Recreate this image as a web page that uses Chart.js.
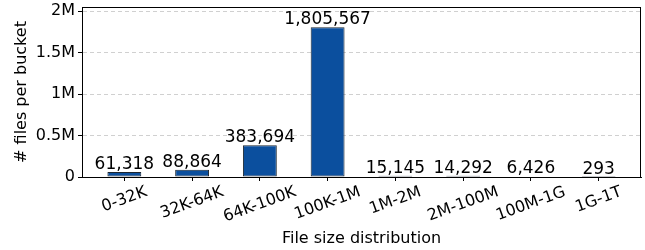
<!DOCTYPE html>
<html>
<head>
<meta charset="utf-8">
<script src="https://cdn.jsdelivr.net/npm/chart.js@4"></script>
<style>
  html, body { margin: 0; padding: 0; background: #fff; }
  #wrap { width: 645px; height: 250px; }
</style>
</head>
<body>
<div id="wrap"><canvas id="chart" width="645" height="250"></canvas></div>
<script>
const buckets = ['0-32K', '32K-64K', '64K-100K', '100K-1M', '1M-2M', '2M-100M', '100M-1G', '1G-1T'];
const fileCounts = [61318, 88864, 383694, 1805567, 15145, 14292, 6426, 293];
const yTicks = [0, 500000, 1000000, 1500000, 2000000];
const yTickLabels = ['0', '0.5M', '1M', '1.5M', '2M'];

const FONT = "'DejaVu Sans', sans-serif";

// black frame round the plot area
const frame = {
  id: 'frame',
  afterDraw(chart) {
    const { ctx, chartArea: a } = chart;
    ctx.save();
    ctx.strokeStyle = '#000';
    ctx.lineWidth = 1;
    ctx.strokeRect(Math.round(a.left) + 0.5, Math.round(a.top) + 0.5,
      Math.round(a.right - a.left) - 1, Math.round(a.bottom - a.top));
    ctx.restore();
  }
};

// value labels on top of bars
const barLabels = {
  id: 'barLabels',
  afterDatasetsDraw(chart) {
    const { ctx } = chart;
    const meta = chart.getDatasetMeta(0);
    ctx.save();
    ctx.font = '17px ' + FONT;
    ctx.fillStyle = '#000';
    ctx.textAlign = 'center';
    ctx.textBaseline = 'bottom';
    meta.data.forEach((bar, i) => {
      ctx.fillText(fileCounts[i].toLocaleString('en-US'), bar.x, bar.y + 1);
    });
    ctx.restore();
  }
};

// x tick labels, rotated 20deg and centred under the tick
const xLabels = {
  id: 'xLabels',
  afterDraw(chart) {
    const { ctx } = chart;
    const sx = chart.scales.x;
    const ang = 20 * Math.PI / 180;
    ctx.save();
    ctx.font = '16px ' + FONT;
    ctx.fillStyle = '#000';
    ctx.textAlign = 'center';
    ctx.textBaseline = 'middle';
    buckets.forEach((lab, i) => {
      const x = sx.getPixelForValue(i);
      const w = ctx.measureText(lab).width;
      const h = w * Math.sin(ang) + 16 * Math.cos(ang);
      ctx.save();
      ctx.translate(x, sx.top + 7 + h / 2);
      ctx.rotate(-ang);
      ctx.fillText(lab, 0, 0);
      ctx.restore();
    });
    ctx.restore();
  }
};

new Chart(document.getElementById('chart'), {
  type: 'bar',
  data: {
    datasets: [{
      data: fileCounts.map((v, i) => ({ x: i, y: v })),
      backgroundColor: '#0b4f9e',
      borderColor: '#1c2630',
      borderWidth: 1,
      borderSkipped: false,
      categoryPercentage: 1,
      barPercentage: 0.5
    }]
  },
  options: {
    responsive: false,
    animation: false,
    layout: { padding: { top: 7, right: 4, left: 0, bottom: 0 } },
    plugins: { legend: { display: false }, tooltip: { enabled: false } },
    scales: {
      x: {
        type: 'linear',
        offset: false,
        min: -0.625, max: 7.625,
        afterBuildTicks(s) { s.ticks = buckets.map((b, i) => ({ value: i })); },
        grid: { display: true, offset: false, drawOnChartArea: false, tickLength: 4, tickColor: '#000' },
        border: { display: true, color: '#000' },
        ticks: { color: 'rgba(0,0,0,0)', font: { family: FONT, size: 16 }, maxRotation: 0, callback: () => '' },
        title: { display: true, text: 'File size distribution', color: '#000', font: { family: FONT, size: 16 }, padding: { top: 0, bottom: 2 } },
        afterFit(s) { s.height = 73; s.paddingLeft = 0; s.paddingRight = 0; }
      },
      y: {
        min: 0, max: 2050000,
        afterBuildTicks(s) { s.ticks = yTicks.map(v => ({ value: v })); },
        grid: { color: '#d0d0d0', tickColor: '#000', tickLength: 4, tickBorderDash: [] },
        border: { display: true, color: '#000', dash: [4, 3] },
        ticks: {
          color: '#000', font: { family: FONT, size: 16 }, padding: 3,
          callback: (v) => yTickLabels[yTicks.indexOf(v)]
        },
        title: { display: true, text: '# files per bucket', color: '#000', font: { family: FONT, size: 16 }, padding: { top: 12, bottom: 0 } },
        afterFit(s) { s.width = 82; s.paddingTop = 0; s.paddingBottom = 0; }
      }
    }
  },
  plugins: [frame, barLabels, xLabels]
});
</script>
</body>
</html>
